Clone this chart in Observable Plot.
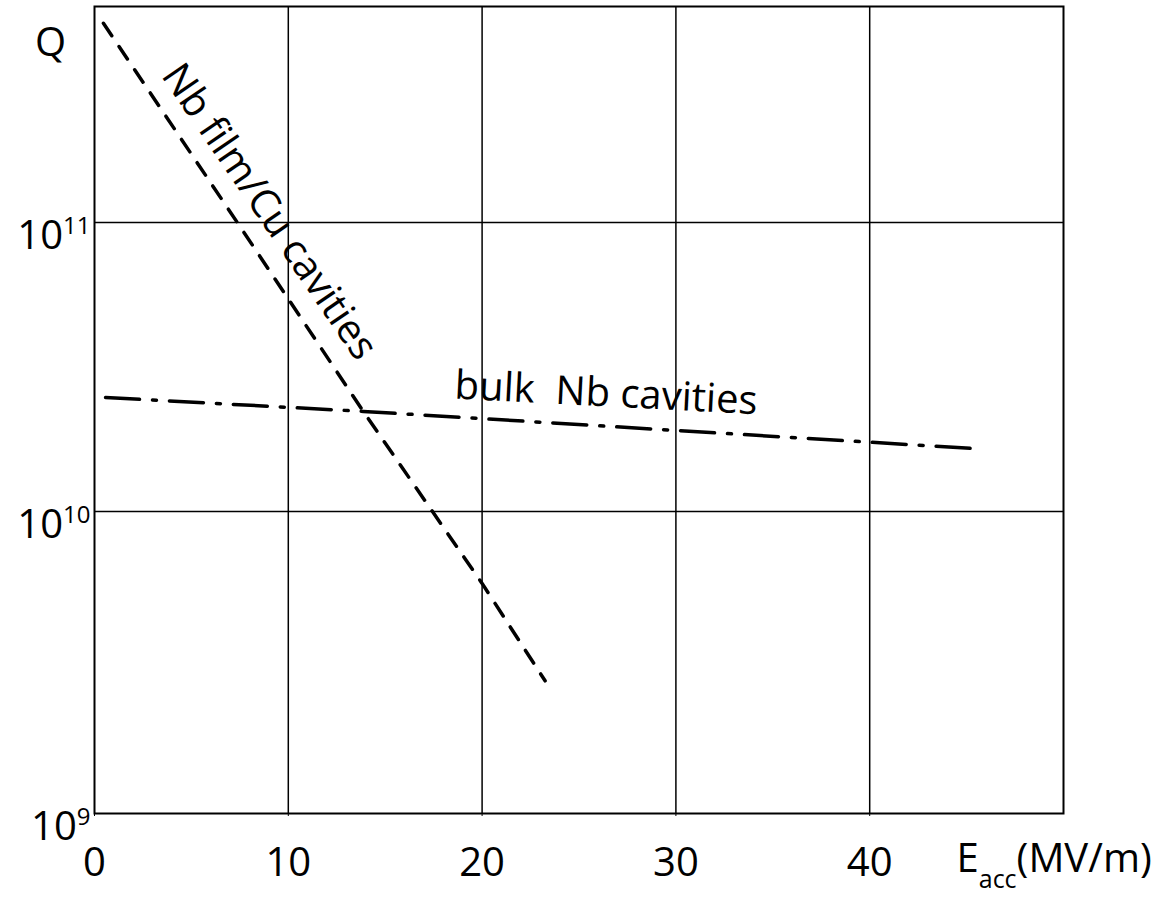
<!DOCTYPE html>
<html>
<head>
<meta charset="utf-8">
<script src="https://cdn.jsdelivr.net/npm/d3@7"></script>
<script src="https://cdn.jsdelivr.net/npm/@observablehq/plot@0.6"></script>
<style>
  body { margin: 0; background: #fff; }
  svg { display: block; }
</style>
</head>
<body>
<div id="chart"></div>
<script>
// Nb film on Cu cavities (dashed line): E_acc (MV/m) vs Q
const filmE = [0.46, 7.37, 13.87, 20.0, 23.25];
const filmQ = [4.9e11, 1.0e11, 2.22e10, 5.78e9, 2.75e9];
// bulk Nb cavities (dash-dot line)
const bulkE = [0.57, 13.87, 45.46];
const bulkQ = [2.48e10, 2.22e10, 1.65e10];

const xTicks = [0, 10, 20, 30, 40];
const xGrid = [10, 20, 30, 40];
const yTicks = [1e9, 1e10, 1e11];
const yGrid = [1e10, 1e11];

const yLabel = "Q";
const xLabel = "E_acc(MV/m)";
const filmLabel = "Nb film/Cu cavities";
const bulkLabel = "bulk\u00a0 Nb cavities";

const film = filmE.map((e, i) => ({E: e, Q: filmQ[i]}));
const bulk = bulkE.map((e, i) => ({E: e, Q: bulkQ[i]}));

const plot = Plot.plot({
  width: 1169,
  height: 902,
  marginLeft: 94,
  marginRight: 106,
  marginTop: 6,
  marginBottom: 89,
  style: {fontFamily: "'Open Sans', sans-serif", fontSize: "40px", color: "#000", background: "#fff"},
  x: {domain: [0, 50]},
  y: {type: "log", domain: [1e9, 1e10, 1e11, 5.6e11], range: [813, 511, 222, 6]},
  marks: [
    Plot.gridX(xGrid, {stroke: "#000", strokeOpacity: 1, strokeWidth: 1.5}),
    Plot.gridY(yGrid, {stroke: "#000", strokeOpacity: 1, strokeWidth: 1.5}),
    Plot.frame({stroke: "#000", strokeWidth: 2}),
    Plot.axisX(xTicks, {tickSize: 3, tickPadding: 31, tickFormat: d => String(d), label: null}),
    Plot.axisY(yTicks, {tickSize: 0, tickPadding: 4, dy: 14, tickFormat: d => `10^${Math.round(Math.log10(d))}`, label: null}),
    Plot.line(film, {x: "E", y: "Q", stroke: "#000", strokeWidth: 3.5, strokeDasharray: "15,13"}),
    Plot.line(bulk, {x: "E", y: "Q", stroke: "#000", strokeWidth: 3.5, strokeDasharray: "34,13,4,13"}),
    Plot.text([filmLabel], {x: () => 9.02, y: () => 1.09e11, text: d => d, rotate: 55.6, fontSize: 40, lineAnchor: "middle"}),
    Plot.text([bulkLabel], {x: () => 26.4, y: () => 2.56e10, text: d => d, rotate: 3, fontSize: 40, lineAnchor: "middle"}),
    Plot.text([yLabel], {frameAnchor: "top-left", text: d => d, dx: -44, dy: 37, fontSize: 40, textAnchor: "middle", lineAnchor: "middle"}),
    Plot.text([xLabel], {x: () => 44.48, frameAnchor: "bottom", text: d => d, dy: 46, fontSize: 40, textAnchor: "start", lineAnchor: "middle"})
  ]
});

document.getElementById("chart").appendChild(plot);

// superscripts / subscripts as real text
d3.select(plot).selectAll("text").each(function () {
  const t = this.textContent;
  const s = d3.select(this);
  const m = t.match(/^10\^(\d+)$/);
  if (m) {
    s.text("10");
    s.append("tspan").attr("dy", -15).attr("font-size", 24).text(m[1]);
  } else if (t === xLabel) {
    s.text("E");
    s.append("tspan").attr("dy", 16).attr("font-size", 25).text("acc");
    s.append("tspan").attr("dy", -16).attr("font-size", 40).text("(MV/m)");
  }
});
</script>
</body>
</html>
